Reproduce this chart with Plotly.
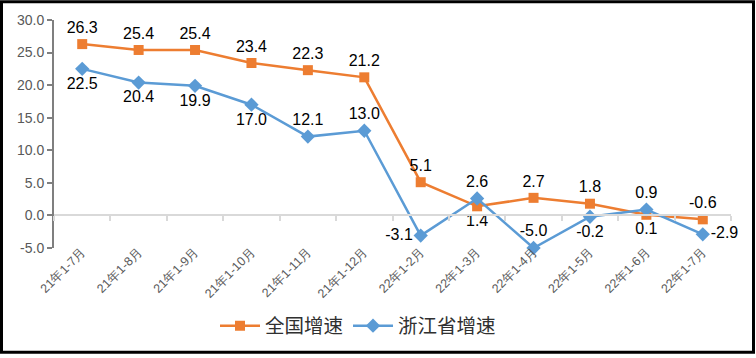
import plotly.graph_objects as go

categories = ["21年1-7月", "21年1-8月", "21年1-9月", "21年1-10月", "21年1-11月", "21年1-12月",
              "22年1-2月", "22年1-3月", "22年1-4月", "22年1-5月", "22年1-6月", "22年1-7月"]
national = [26.3, 25.4, 25.4, 23.4, 22.3, 21.2, 5.1, 1.4, 2.7, 1.8, 0.1, -0.6]
zhejiang = [22.5, 20.4, 19.9, 17.0, 12.1, 13.0, -3.1, 2.6, -5.0, -0.2, 0.9, -2.9]
national_pos = ["top center"] * 6 + ["top center", "bottom center", "top center", "top center",
                                      "bottom center", "top center"]
zhejiang_pos = ["bottom center"] * 4 + ["top center", "top center",
                                        "middle left", "top center", "top center", "bottom center",
                                        "top center", "middle right"]
y_ticks = [-5, 0, 5, 10, 15, 20, 25, 30]

ORANGE = "#ED7D31"
BLUE = "#5B9BD5"
W, H = 756, 358
L, R, T, B = 54, 25, 20, 107
pw, ph = W - L - R, H - T - B

fig = go.Figure()
fig.add_trace(go.Scatter(
    x=categories, y=national, name="全国增速", mode="lines+markers+text",
    line=dict(color=ORANGE, width=2.5),
    marker=dict(symbol="square", size=10, color=ORANGE),
    text=[f"{v:.1f}" for v in national], textposition=national_pos,
    textfont=dict(size=16, color="#000000", family="Liberation Sans"),
    cliponaxis=False,
))
fig.add_trace(go.Scatter(
    x=categories, y=zhejiang, name="浙江省增速", mode="lines+markers+text",
    line=dict(color=BLUE, width=2.5),
    marker=dict(symbol="diamond", size=11, color=BLUE),
    text=[f"{v:.1f}" for v in zhejiang], textposition=zhejiang_pos,
    textfont=dict(size=16, color="#000000", family="Liberation Sans"),
    cliponaxis=False,
))
# invisible trace to drive the zero-line axis with boundary ticks
fig.add_trace(go.Scatter(x=categories, y=[None] * len(categories), xaxis="x2",
                         showlegend=False, hoverinfo="skip"))

fig.update_layout(
    width=W, height=H,
    margin=dict(l=L, r=R, t=T, b=B),
    paper_bgcolor="white", plot_bgcolor="white",
    font=dict(family="Liberation Sans", color="#595959"),
    showlegend=True,
    legend=dict(orientation="h", x=(215 - L) / pw, xanchor="left",
                y=(H - B - 330) / ph, yanchor="middle",
                font=dict(size=19.5, color="#303030", family="Noto Sans CJK SC"),
                itemwidth=40, bgcolor="rgba(0,0,0,0)"),
    xaxis=dict(type="category", categoryorder="array", categoryarray=categories,
               range=[-0.5, 11.5], showgrid=False, showline=False, ticks="",
               anchor="free", position=7 / ph,
               tickangle=-45, tickfont=dict(size=12.5, color="#595959"),
               zeroline=False, fixedrange=True),
    xaxis2=dict(type="category", categoryorder="array", categoryarray=categories,
                range=[-0.5, 11.5], overlaying="x", anchor="free",
                position=5 / 35, side="bottom",
                showgrid=False, showline=True, linecolor="#D9D9D9", linewidth=2,
                ticks="outside", tickson="boundaries", ticklen=5, tickwidth=2,
                tickcolor="#D9D9D9", showticklabels=False, zeroline=False),
    yaxis=dict(range=[-5, 30], tickvals=y_ticks,
               ticktext=[f"{v:.1f}" for v in y_ticks],
               showgrid=False, zeroline=False, showline=True, linecolor="#7F7F7F",
               linewidth=2, ticks="outside", ticklen=5, tickwidth=2, tickcolor="#7F7F7F",
               tickfont=dict(size=14, color="#595959")),
    shapes=[dict(type="rect", xref="paper", yref="paper",
                 x0=(1.5 - L) / pw, x1=(W - 2.5 - L) / pw,
                 y0=(H - B - (H - 1.5)) / ph, y1=(H - B - 1.5) / ph,
                 line=dict(color="black", width=3), fillcolor="rgba(0,0,0,0)",
                 layer="above")],
)

post = (
    "document.documentElement.style.margin='0';"
    "document.documentElement.style.overflow='hidden';"
    "document.body.style.margin='0';"
    "document.body.style.overflow='hidden';"
    "var gd=document.getElementsByClassName('plotly-graph-div')[0];"
    "gd.style.display='block';"
    "gd.parentElement.style.height='358px';"
    "gd.parentElement.style.overflow='hidden';"
    "document.body.style.height='358px';"
    "document.documentElement.style.height='358px';"
)
fig.write_html("out.html", config={"displayModeBar": False}, post_script=post)
